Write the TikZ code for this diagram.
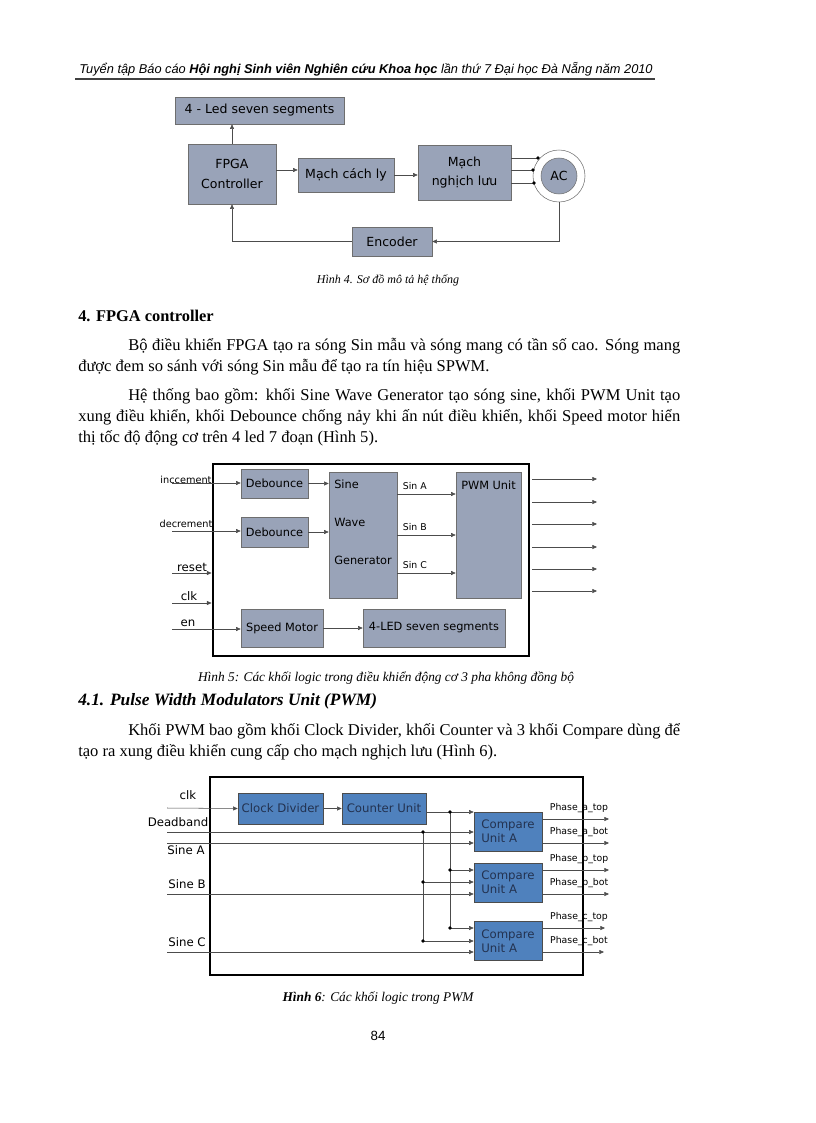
\documentclass[tikz,border=0pt]{standalone}
\usepackage{fontspec}
\setmainfont{Liberation Serif}
\setsansfont{Liberation Sans}
\newfontfamily\dejavu{DejaVu Sans}
\usetikzlibrary{arrows.meta}

\definecolor{xamxanh}{RGB}{153,163,184}
\definecolor{xanhpwm}{RGB}{79,129,189}
\definecolor{vienxam}{RGB}{110,110,110}
\definecolor{chupwm}{RGB}{35,50,80}

\newcommand{\cham}[1]{\fill (#1) circle (1.4pt);}

\begin{document}
\begin{tikzpicture}[x=0.75pt, y=-0.75pt, >={Triangle[length=3.5pt,width=3pt]},
  chu/.style={anchor=base west, inner sep=0pt, font=\fontsize{12.4}{14}\selectfont},
  chuthich/.style={anchor=base, inner sep=0pt, font=\fontsize{10}{12}\selectfont\itshape},
  khoi/.style={draw=vienxam, fill=xamxanh, inner sep=0pt, align=center, font=\dejavu\fontsize{9.4}{14.5}\selectfont},
  khoinho/.style={khoi, font=\dejavu\fontsize{8.5}{10}\selectfont},
  khoixanh/.style={draw=black!70, fill=xanhpwm, inner sep=0pt, align=left, text=chupwm, font=\dejavu\fontsize{8.8}{10.5}\selectfont},
  nhan/.style={inner sep=0pt, font=\dejavu\fontsize{8.8}{10}\selectfont},
  nhannho/.style={inner sep=0pt, font=\dejavu\fontsize{7}{8}\selectfont},
  day/.style={draw=black!70}]
  \useasboundingbox (0,0) rectangle (816,1123);

  % dau trang
  \node[anchor=base, inner sep=0pt, font=\sffamily\itshape\fontsize{9.6}{12}\selectfont] (dautrang) at (366,74)
    {Tuyển tập Báo cáo \textbf{Hội nghị Sinh viên Nghiên cứu Khoa học} lần thứ 7 Đại học Đà Nẵng năm 2010};
  \draw[line width=2pt, black!75] (75,79) -- (655,79);

  % Hinh 4
  \node[khoi, minimum width=126.75pt, minimum height=20.25pt] (led) at (259.5,110.5) {4 - Led seven segments};
  \node[khoi, minimum width=66pt, minimum height=45pt] (fpga) at (232,174) {FPGA\\Controller};
  \node[khoi, minimum width=72pt, minimum height=25.5pt] (cachly) at (346,175) {Mạch cách ly};
  \node[khoi, minimum width=69.75pt, minimum height=41.25pt] (nghich) at (464.5,172.5) {Mạch\\nghịch lưu};
  \node[khoi, minimum width=60pt, minimum height=21.75pt] (encoder) at (392,241.5) {Encoder};
  \node[draw=vienxam, circle, minimum size=39pt, inner sep=0pt] (dongco) at (559,176) {};
  \node[khoi, circle, minimum size=27pt] (ac) at (559,176) {AC};
  \draw[day, ->] (fpga.north) -- (fpga.north |- led.south);
  \draw[day, ->] ([yshift=3pt]fpga.east) -- ([yshift=3pt]fpga.east -| cachly.west);
  \draw[day, ->] (cachly.east) -- (cachly.east -| nghich.west);
  \foreach \y/\x [count=\i] in {158/538, 170/533, 183/534} {
    \coordinate (pha\i) at (\x,\y);
    \draw[day] (nghich.east |- pha\i) -- (pha\i);
    \cham{pha\i}
  }
  \draw[day, ->] (dongco.south) |- (encoder.east);
  \draw[day, ->] (encoder.west) -| (fpga.south);
  \node[chuthich, font=\fontsize{9}{11}\selectfont\itshape] (hinh4) at (388,283) {Hình 4. Sơ đồ mô tả hệ thống};

  % van ban
  \node[chu, font=\fontsize{12.3}{14}\selectfont\bfseries] (muc4) at (78,321) {4. FPGA controller};
  \node[chu] (d1) at (128,350) {\makebox[414pt][s]{Bộ điều khiển FPGA tạo ra sóng Sin mẫu và sóng mang có tần số cao. Sóng mang}};
  \node[chu] (d2) at (78,371) {được đem so sánh với sóng Sin mẫu để tạo ra tín hiệu SPWM.};
  \node[chu] (d3) at (128,400) {\makebox[414pt][s]{Hệ thống bao gồm: khối Sine Wave Generator tạo sóng sine, khối PWM Unit tạo}};
  \node[chu] (d4) at (78,421) {\makebox[451.5pt][s]{xung điều khiển, khối Debounce chống nảy khi ấn nút điều khiển, khối Speed motor hiển}};
  \node[chu] (d5) at (78,442) {thị tốc độ động cơ trên 4 led 7 đoạn (Hình 5).};

  % Hinh 5
  \node[draw, line width=2.2pt, minimum width=237pt, minimum height=144pt] (khung5) at (371,560) {};
  \node[khoinho, minimum width=50.25pt, minimum height=21.75pt] (deb1) at (274.5,483.5) {Debounce};
  \node[khoinho, minimum width=50.25pt, minimum height=22.5pt] (deb2) at (274.5,532) {Debounce};
  \node[khoinho, minimum width=51pt, minimum height=94.5pt] (sine) at (363,535) {};
  \foreach \t/\y in {Sine/484, Wave/522, Generator/560}
    \node[nhan, font=\dejavu\fontsize{8.5}{10}\selectfont, anchor=west] at (334,\y) {\t};
  \node[khoinho, minimum width=48.75pt, minimum height=94.5pt] (pwm) at (488.5,535) {};
  \node[nhan, font=\dejavu\fontsize{8.5}{10}\selectfont] at (488.5,485) {PWM Unit};
  \node[khoinho, minimum width=61.5pt, minimum height=28.5pt] (speed) at (282,628) {Speed Motor};
  \node[khoinho, minimum width=106.5pt, minimum height=28.5pt] (led4) at (434,628) {4-LED seven segments};
  \coordinate (inc) at (172,483);
  \coordinate (dec) at (172,531);
  \coordinate (reset) at (172,573);
  \coordinate (clk) at (172,603);
  \coordinate (en) at (172,629);
  \draw[day, ->] (inc) -- (inc -| deb1.west);
  \draw[day, ->] (dec) -- (dec -| deb2.west);
  \draw[day, ->] (reset) -- (reset -| khung5.west);
  \draw[day, ->] (clk) -- (clk -| khung5.west);
  \draw[day, ->] (en) -- (en -| speed.west);
  \node[nhannho, font=\dejavu\fontsize{7.3}{8}\selectfont] at (186,480) {inccement};
  \node[nhannho, font=\dejavu\fontsize{7.3}{8}\selectfont] at (186,524) {decrement};
  \node[nhan] at (192,567) {reset};
  \node[nhan] at (189,596) {clk};
  \node[nhan] at (188,623) {en};
  \draw[day, ->] (deb1.east) -- (deb1.east -| sine.west);
  \draw[day, ->] (deb2.east) -- (deb2.east -| sine.west);
  \foreach \y/\t in {494/Sin A, 535/Sin B, 573/Sin C}
    \draw[day, ->] (sine.east |- 0,\y) -- node[nhannho, pos=0.3, above=3pt] {\t} (pwm.west |- 0,\y);
  \draw[day, ->] (speed.east) -- (led4.west);
  \foreach \y [count=\i] in {479,502,524,547,569,591} {
    \coordinate (ra\i) at (532,\y);
    \coordinate (rb\i) at (597,\y);
    \draw[day, ->] (ra\i) -- (rb\i);
  }
  \node[chuthich] (hinh5) at (386,681) {Hình 5: Các khối logic trong điều khiển động cơ 3 pha không đồng bộ};

  % van ban
  \node[chu, font=\fontsize{13}{15}\selectfont\bfseries\itshape] (muc41) at (78,705) {4.1. Pulse Width Modulators Unit (PWM)};
  \node[chu] (d6) at (128,735) {\makebox[414pt][s]{Khối PWM bao gồm khối Clock Divider, khối Counter và 3 khối Compare dùng để}};
  \node[chu] (d7) at (78,756) {tạo ra xung điều khiển cung cấp cho mạch nghịch lưu (Hình 6).};

  % Hinh 6
  \node[draw, line width=1.6pt, minimum width=279.75pt, minimum height=148.5pt] (khung6) at (396.5,876) {};
  \node[khoixanh, minimum width=63.75pt, minimum height=23.25pt] (chia) at (280.5,808.5) {Clock Divider};
  \node[khoixanh, minimum width=63pt, minimum height=23.25pt] (dem) at (384,808.5) {Counter Unit};
  \node[khoixanh, minimum width=51pt, minimum height=29.25pt] (ssA) at (508,831.5) {Compare\\Unit A};
  \node[khoixanh, minimum width=51pt, minimum height=29.25pt] (ssB) at (508,882.5) {Compare\\Unit A};
  \node[khoixanh, minimum width=51pt, minimum height=29.25pt] (ssC) at (508,941) {Compare\\Unit A};
  \coordinate (clk6) at (167,808);
  \coordinate (dead) at (167,832);
  \coordinate (sinA) at (167,843);
  \coordinate (sinB) at (167,894);
  \coordinate (sinC) at (167,952);
  \coordinate (n1) at (450,812);
  \coordinate (n2) at (450,870);
  \coordinate (n3) at (450,928);
  \coordinate (m1) at (423,832);
  \coordinate (m2) at (423,882);
  \coordinate (m3) at (423,941);
  \draw[day, ->] (clk6) -- (chia.west);
  \draw[day, ->] (chia) -- (dem);
  \draw[day, ->] (dem.east |- n1) -- (n1 -| ssA.west);
  \draw[day] (n1) -- (n3);
  \draw[day, ->] (n2) -- (n2 -| ssB.west);
  \draw[day, ->] (n3) -- (n3 -| ssC.west);
  \draw[day, ->] (dead) -- (dead -| ssA.west);
  \draw[day] (m1) -- (m3);
  \draw[day, ->] (m2) -- (m2 -| ssB.west);
  \draw[day, ->] (m3) -- (m3 -| ssC.west);
  \draw[day, ->] (sinA) -- (sinA -| ssA.west);
  \draw[day, ->] (sinB) -- (sinB -| ssB.west);
  \draw[day, ->] (sinC) -- (sinC -| ssC.west);
  \foreach \c in {n1,n2,n3,m1,m2,m3} { \cham{\c} }
  \node[nhan] at (188,795) {clk};
  \node[nhan] at (178,822) {Deadband};
  \node[nhan] at (186,850) {Sine A};
  \node[nhan] at (187,884) {Sine B};
  \node[nhan] at (187,942) {Sine C};
  \foreach \kh/\y/\xe/\t in {ssA/819/609/Phase\_a\_top, ssA/843/609/Phase\_a\_bot,
      ssB/870/609/Phase\_b\_top, ssB/894/609/Phase\_b\_bot,
      ssC/928/605/Phase\_c\_top, ssC/952/604/Phase\_c\_bot} {
    \draw[day, ->] (\kh.east |- 0,\y) -- (\xe,\y);
    \node[nhannho] at (579,\y-11) {\t};
  }
  \node[chuthich] (hinh6) at (378,1001) {\textbf{Hình 6}: Các khối logic trong PWM};

  % so trang
  \node[anchor=base, inner sep=0pt, font=\sffamily\fontsize{10}{12}\selectfont] (trang) at (378,1040) {84};
\end{tikzpicture}
\end{document}
